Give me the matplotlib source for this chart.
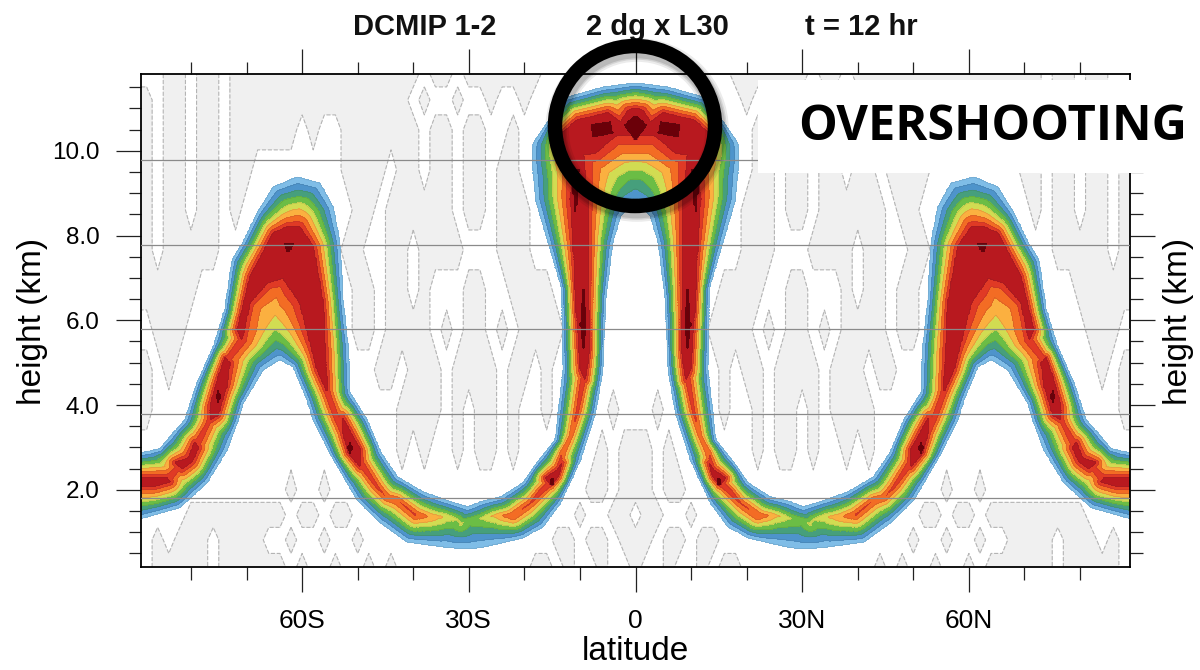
import numpy as np
import matplotlib
matplotlib.use('Agg')
import matplotlib.pyplot as plt
from matplotlib.path import Path
from matplotlib.patches import Ellipse, Rectangle

# latitude ticks
xticks = [-60, -30, 0, 30, 60]
xticklabels = ['60S', '30S', '0', '30N', '60N']
yticks = [2, 4, 6, 8, 10]
yticklabels = ['2.0', '4.0', '6.0', '8.0', '10.0']
grid_heights = [1.81, 3.79, 5.80, 7.78, 9.78]

# tracer outlines, one hemisphere: (|lat|, height km)
upper_edge = [(90, 2.85), (85.6, 2.97), (83.2, 3.34), (81.1, 3.65), (78.9, 4.52), (76.0, 5.37), (73.9, 6.25),
              (72.6, 7.42), (70.6, 7.85), (68.1, 8.53), (65.2, 9.15), (60.9, 9.38), (56.8, 9.24), (54.4, 8.67),
              (53.2, 7.83), (52.6, 6.41), (51.7, 5.37), (51.4, 4.29), (48.3, 3.65), (45.9, 2.90), (42.9, 2.31),
              (38.2, 1.95), (33.3, 1.72), (30.1, 1.60), (27.9, 1.72), (24.3, 1.83), (20.2, 2.17), (17.7, 2.64),
              (14.4, 3.18), (13.9, 3.82), (13.0, 4.83), (13.2, 6.72), (15.3, 7.66), (18.0, 8.84), (18.6, 9.78),
              (18.4, 10.18), (15.9, 10.66), (12.6, 11.25), (5.8, 11.50), (0, 11.60)]
lower_edge = [(90, 1.28), (82.0, 1.58), (77.1, 2.17), (73.5, 2.94), (71.5, 3.65), (70.6, 4.05), (67.0, 4.83),
              (64.0, 5.07), (61.6, 4.90), (59.1, 4.12), (58.0, 3.65), (55.0, 2.87), (50.1, 1.76), (45.9, 1.22),
              (41.1, 0.77), (33.3, 0.63), (30.1, 0.61), (27.9, 0.63), (20.2, 0.87), (16.6, 1.13), (13.5, 1.69),
              (9.9, 2.71), (7.2, 3.82), (5.9, 4.83), (5.4, 6.48), (4.1, 7.83), (2.7, 8.44), (1.3, 8.67), (0, 8.72)]

# strongest tracer along the band: (|lat|, height, value)
ridge_west = [(90, 2.19, .9), (84.3, 2.24, .9), (82.7, 2.47, .87), (81.4, 2.57, .9), (79.3, 3.0, .9), (77.1, 3.53, .86),
              (75.1, 4.19, .9), (73.5, 5.07, .9), (70.8, 5.54, .9)]
ridge_east = [(55.5, 4.31, .9), (53.7, 3.65, .88), (51.4, 2.99, .9), (49.5, 2.64, .9), (46.5, 2.07, .84), (44.7, 1.81, .8),
              (42.9, 1.76, .81), (39.6, 1.41, .82), (36.9, 1.36, .7), (34.2, 1.36, .6), (31.9, 1.29, .52), (31.5, 1.2, .53),
              (30.1, 1.27, .48), (27.9, 1.32, .52), (25.2, 1.39, .65), (22, 1.39, .82), (18.9, 1.69, .82), (17.1, 1.95, .88),
              (15, 2.19, .9), (13.9, 2.47, .9), (13.2, 2.87, .82), (11.7, 3.25, .78), (10.5, 3.82, .85), (9.4, 4.59, .9)]

# crimson areas
core_arch = [(62.7, 8.20), (60.4, 8.20), (58, 7.73), (56.2, 6.41), (55.5, 4.31), (57.3, 4.83), (60.4, 6.41), (63.4, 7.0),
             (66.3, 6.88), (69.4, 6.41), (70.8, 5.54), (71.7, 5.77), (69.4, 7.02), (65.2, 8.06)]
core_cap = [(0, 10.99), (1.3, 10.96), (2.7, 10.66), (5.0, 10.89), (10.5, 10.73), (13.2, 10.42), (11.4, 9.48), (11.7, 8.84),
            (11.2, 7.83), (10.8, 6.48), (9.9, 4.83), (9.0, 4.59), (8.3, 5.30), (8.5, 7.83), (8.6, 8.84), (9.4, 9.90),
            (7.2, 9.95), (3.6, 10.35), (0, 10.35)]
core_a = [(90, 2.28), (84.3, 2.28), (83.8, 2.19), (86.5, 2.09), (90, 2.09)]
core_b = [(82.9, 2.64), (80.5, 2.75), (79.3, 3.13), (78.7, 2.99), (79.8, 2.66), (81.6, 2.50)]
core_c = [(73.9, 5.11), (73.0, 5.0), (73.5, 4.48), (75.1, 3.77), (76.6, 3.65), (76.6, 3.96), (75.1, 4.67)]
core_d = [(52.8, 3.72), (49.5, 2.94), (49.5, 2.54), (51.7, 2.87), (52.8, 3.42)]
core_e = [(14.1, 2.47), (13.2, 2.64), (13.9, 2.31), (15.3, 2.12), (16.2, 2.28)]
crimson_areas = [core_arch, core_cap, core_a, core_b, core_c, core_d, core_e]

# maroon peaks
maroon_areas = [
    [(0, 10.82), (2.0, 10.61), (0, 10.24)],
    [(8.1, 10.61), (4.5, 10.68), (4.1, 10.42), (7.6, 10.33)],
    [(10.1, 9.55), (11.5, 9.55), (10.8, 8.44)],
    [(9.4, 6.79), (8.9, 5.9), (9.4, 5.3), (9.9, 5.9)],
    [(61.6, 7.80), (63.2, 7.80), (62.5, 7.58)],
    [(75.5, 4.2), (75.1, 4.35), (74.7, 4.2), (75.1, 4.05)],
    [(51.8, 2.99), (51.4, 3.12), (51.0, 2.99), (51.4, 2.86)],
    [(15.4, 2.19), (15.0, 2.31), (14.6, 2.19), (15.0, 2.07)],
]

# small negative values: grey (1) or not (0), columns from 88 deg to 0 deg every 2 deg
noise_z = [11.81, 11.2, 10.49, 9.55, 8.6, 7.66, 6.72, 5.77, 4.83, 3.89, 2.94, 2.0, 1.41, 0.82, 0.18]
noise_rows = [
    '00110110' + '1' * 17 + '0' + '11' + '0' + '1' * 7 + '0' * 9,
    '10110110' + '1' * 16 + '0' + '1' + '00' + '1' + '00' + '1' + '00' + '1' + '0' * 10,
    '10110110' + '1' * 6 + '0' + '1' + '00' + '1' * 7 + '0' + '11' + '0' + '11' + '00' + '1' + '0' * 11,
    '10110110' + '11' + '0' * 8 + '1111' + '0' + '11' + '0' + '11' + '0' + '11' + '0' + '11' + '0' * 11,
    '10110110' + '1' + '0' * 10 + '11' + '0' + '111111' + '0' + '11' + '0' + '111' + '0' * 10,
    '10' + '11111' + '0' * 11 + '11' + '00' + '11' + '0' + '1111' + '000' + '111' + '0' * 10,
    '11111' + '0' * 14 + '11' + '0' + '11' + '0' + '1' + '000' + '11' + '00' + '1111' + '0' * 8,
    '0111' + '0' * 15 + '11' + '0' + '1111' + '0' + '1' + '0' + '11' + '0' + '1' + '0' + '1111' + '0' * 7,
    '101' + '0' * 18 + '11' + '0' + '111' + '0' + '1111' + '0' + '11' + '0' + '1' + '0' * 8,
    '1' + '0' * 22 + '1111' + '0' + '1' + '0' + '11' + '0' + '1' + '00' + '1' + '0' * 5 + '1' + '00',
    '0' * 23 + '1' + '0' + '1' + '00' + '1' + '0' + '11' + '0' + '1' + '0' * 7 + '1' + '0' + '11',
    '0' * 13 + '1' + '00' + '1' + '0' * 23 + '11' + '0' + '11',
    '0000' + '11' + '1111111' + '0' + '11' + '0' + '11' + '0' * 20 + '1' + '00' + '11' + '0',
    '010' + '111' + '0' + '1111' + '00' + '1' + '00' + '1' + '00' + '1' + '0' * 17 + '11' + '0' + '11' + '0' + '11',
    '011' + '111' + '0' + '1111' + '11' + '0' + '1' + '00' + '1' + '00' + '1' + '0' + '1' + '0' * 12 + '11' + '0' + '1' + '00' + '1' + '00' + '1',
]

levels = [0.1, 0.2, 0.3, 0.4, 0.5, 0.6, 0.7, 0.8, 0.9, 1.0, 2.0]
colors = ['#7fbde7', '#4e94cb', '#469f7c', '#6bbd45', '#d1dc52', '#fbb040', '#f36c24', '#e03a25', '#b8191f', '#6b0009']

KM_PER_DEG = 5.55 / 42.4  # one degree on the axes in km of height


def densify(points, step=0.04):
    # step along a line in km so nearest point lookups stay smooth
    pts = np.array(points, dtype=float)
    out = []
    for a, b in zip(pts[:-1], pts[1:]):
        dist = np.hypot((b[0] - a[0]) * KM_PER_DEG, b[1] - a[1])
        n = max(int(dist / step), 1)
        t = np.linspace(0, 1, n, endpoint=False)[:, None]
        out.append(a + (b - a) * t)
    out.append(pts[-1:])
    return np.vstack(out)


def ridge_values(ridge):
    # values along a ridge, walking the dense line by its own length
    ctrl = np.array([r[:2] for r in ridge])
    pts = densify(ctrl)
    s_ctrl = np.r_[0, np.cumsum(np.hypot(np.diff(ctrl[:, 0]) * KM_PER_DEG, np.diff(ctrl[:, 1])))]
    s_pts = np.r_[0, np.cumsum(np.hypot(np.diff(pts[:, 0]) * KM_PER_DEG, np.diff(pts[:, 1])))]
    return pts, np.interp(s_pts, s_ctrl, [r[2] for r in ridge])


def nearest(px, pz, line):
    # distance of every point to line, and which line point is the closest
    dist = np.zeros(len(px))
    idx = np.zeros(len(px), dtype=int)
    for i in range(0, len(px), 4000):
        dx = (px[i:i + 4000, None] - line[:, 0]) * KM_PER_DEG
        dz = pz[i:i + 4000, None] - line[:, 1]
        d = np.hypot(dx, dz)
        idx[i:i + 4000] = d.argmin(axis=1)
        dist[i:i + 4000] = d.min(axis=1)
    return dist, idx


lat_half = np.arange(0.125, 89.3, 0.25)
z_grid = np.arange(0.15, 11.85, 0.025)
lat2, z2 = np.meshgrid(lat_half, z_grid)
px, pz = lat2.ravel(), z2.ravel()

band = Path(np.array(upper_edge + lower_edge[::-1]))
inside = band.contains_points(np.c_[px, pz])

edge = np.vstack([densify(upper_edge), densify(lower_edge)])
west_pts, west_val = ridge_values(ridge_west)
east_pts, east_val = ridge_values(ridge_east)
area_pts = [densify(p + p[:1]) for p in crimson_areas]
core = np.vstack([west_pts, east_pts] + area_pts)
core_val = np.concatenate([west_val, east_val] + [np.full(len(c), 0.9) for c in area_pts])

field = np.zeros(px.shape)
d_edge, _ = nearest(px, pz, edge)
d_core, i_core = nearest(px[inside], pz[inside], core)
frac = d_edge[inside] / (d_edge[inside] + d_core + 1e-6)
field[inside] = 0.1 + (core_val[i_core] - 0.1) * frac
field[~inside] = np.maximum(0.1 - d_edge[~inside] * 1.0, -0.2)
for poly in crimson_areas:
    field[Path(np.array(poly)).contains_points(np.c_[px, pz])] = 0.95
for poly in maroon_areas:
    field[Path(np.array(poly)).contains_points(np.c_[px, pz])] = 1.05
field = field.reshape(lat2.shape)

lat_full = np.r_[-lat_half[::-1], lat_half]
field_full = np.hstack([field[:, ::-1], field])

noise = np.array([[int(c) for c in row] for row in noise_rows], dtype=float)
noise_lat = np.r_[-89, np.arange(-88, 89, 2), 89]
noise_full = np.hstack([noise[:, :1], noise, noise[:, -2::-1], noise[:, :1]])

plt.rcParams['font.family'] = ['Liberation Sans', 'DejaVu Sans']

fig = plt.figure(figsize=(12, 6.7), dpi=100)
ax = fig.add_axes([141 / 1200, 1 - 567 / 670, 989 / 1200, 493 / 670])

ax.contourf(noise_lat, noise_z, noise_full, levels=[0.5, 1.5], colors='#f0f0f0', zorder=1)
ax.contour(noise_lat, noise_z, noise_full, levels=[0.5], colors='#b4b4b4', linewidths=0.8, linestyles='--', zorder=1.1)
ax.contourf(lat_full, z_grid, field_full, levels=levels, colors=colors, zorder=2)
ax.contour(lat_full, z_grid, field_full, levels=levels[:-1], colors='#30303040', linewidths=0.3, zorder=2.1)
for h in grid_heights:
    ax.axhline(h, color='#8a8a8a', lw=0.9, zorder=3)

ax.set_xlim(-89, 89)
ax.set_ylim(0.18, 11.81)
ax.set_xticks(xticks)
ax.set_xticklabels(xticklabels, fontsize=19)
ax.set_xticks(np.arange(-80, 81, 10), minor=True)
ax.set_yticks(yticks)
ax.set_yticklabels(yticklabels, fontsize=17.5)
ax.set_yticks(np.arange(0.5, 11.6, 0.5), minor=True)
ax.tick_params(which='major', length=18, width=0.9, pad=12, top=True, right=True, color='#222222')
ax.tick_params(which='minor', length=9, width=0.9, top=True, right=True, color='#222222')
for s in ax.spines.values():
    s.set_linewidth(1.3)

fig.text(635 / 1200, 1 - 652 / 670, 'latitude', fontsize=24, ha='center', va='center')
fig.text(33 / 1200, 1 - 321 / 670, 'height (km)', fontsize=24, rotation=90, ha='center', va='center')
fig.text(1179 / 1200, 1 - 321 / 670, 'height (km)', fontsize=24, rotation=90, ha='center', va='center')

fig.text(425 / 1200, 1 - 27 / 670, 'DCMIP 1-2', fontsize=21, fontweight='bold', ha='center', va='center', color='#111111')
fig.text(657 / 1200, 1 - 27 / 670, '2 dg x L30', fontsize=21, fontweight='bold', ha='center', va='center', color='#111111')
fig.text(861 / 1200, 1 - 27 / 670, 't = 12 hr', fontsize=21, fontweight='bold', ha='center', va='center', color='#111111')

# white label box over the plot and the ring with its soft shadow
fig.add_artist(Rectangle((758 / 1200, 1 - 173 / 670), 442 / 1200, 93 / 670, transform=fig.transFigure,
                         facecolor='white', edgecolor='none', zorder=4))
fig.text(798 / 1200, 1 - 127 / 670, 'OVERSHOOTING', fontsize=35, fontweight='bold', family='Open Sans',
         ha='left', va='center', color='black', zorder=6)
for lw, a in [(17, 0.08), (14, 0.1), (12, 0.12)]:
    fig.add_artist(Ellipse((637 / 1200, 1 - 130 / 670), 160 / 1200, 160 / 670, transform=fig.transFigure,
                           facecolor='none', edgecolor='black', lw=lw, alpha=a, zorder=4.5))
fig.add_artist(Ellipse((635 / 1200, 1 - 126 / 670), 160 / 1200, 160 / 670, transform=fig.transFigure,
                       facecolor='none', edgecolor='black', lw=10.4, zorder=5))

fig.savefig('out.png', dpi=100)
